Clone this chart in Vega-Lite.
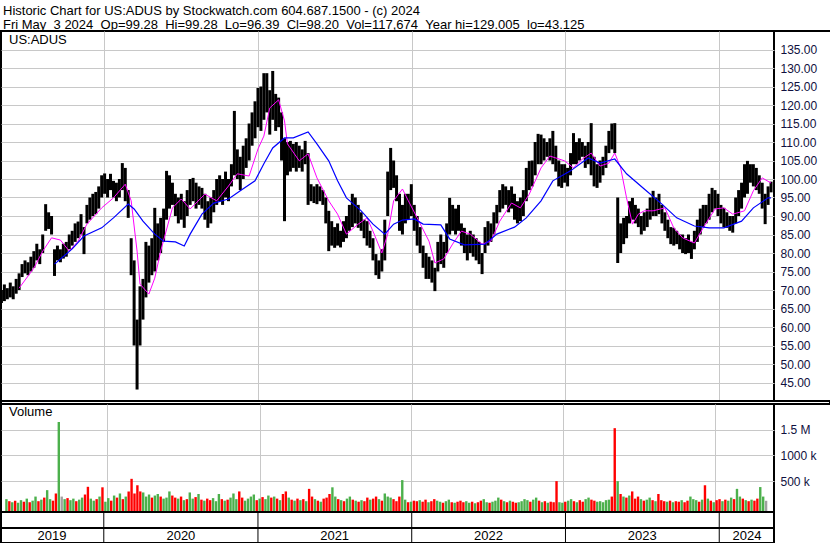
{
"$schema": "https://vega.github.io/schema/vega-lite/v6.json",
"background": "white",
"padding": {"left": 0, "top": 4, "right": 0, "bottom": 0},
"title": {"text": ["Historic Chart for US:ADUS by Stockwatch.com 604.687.1500 - (c) 2024", "Fri May\u00a0\u00a03 2024\u00a0\u00a0Op=99.28\u00a0\u00a0Hi=99.28\u00a0\u00a0Lo=96.39\u00a0\u00a0Cl=98.20\u00a0\u00a0Vol=117,674\u00a0\u00a0Year hi=129.005\u00a0\u00a0lo=43.125"], "anchor": "start", "frame": "group", "fontSize": 13, "fontWeight": "normal", "lineHeight": 14, "offset": -2, "dx": 2, "color": "black", "font": "Liberation Sans"},
"config": {"view": {"stroke": "black", "strokeWidth": 2}, "concat": {"spacing": 0}, "axis": {"labelFont": "Liberation Sans", "labelOverlap": false}, "text": {"font": "Liberation Sans"}, "title": {"font": "Liberation Sans"}},
"datasets": {
"px": [
{"d":"2019-05-03","h":70,"l":66.5,"v":150,"c":"g"},
{"d":"2019-05-10","h":71.5,"l":67,"v":110,"c":"r"},
{"d":"2019-05-17","h":70.5,"l":67.5,"v":90,"c":"g"},
{"d":"2019-05-24","h":72,"l":68,"v":120,"c":"r"},
{"d":"2019-05-31","h":71,"l":67.5,"v":80,"c":"g"},
{"d":"2019-06-07","h":73,"l":69,"v":130,"c":"g"},
{"d":"2019-06-14","h":74.5,"l":70,"v":100,"c":"r"},
{"d":"2019-06-21","h":77,"l":73.5,"v":160,"c":"g"},
{"d":"2019-06-28","h":78,"l":74.5,"v":90,"c":"r"},
{"d":"2019-07-05","h":77.5,"l":74,"v":120,"c":"g"},
{"d":"2019-07-12","h":79,"l":75,"v":200,"c":"g"},
{"d":"2019-07-19","h":80.5,"l":76,"v":110,"c":"r"},
{"d":"2019-07-26","h":82.5,"l":78,"v":140,"c":"g"},
{"d":"2019-08-02","h":81,"l":77,"v":180,"c":"r"},
{"d":"2019-08-09","h":85,"l":80,"v":325,"c":"g"},
{"d":"2019-08-16","h":93.2,"l":86,"v":150,"c":"g"},
{"d":"2019-08-23","h":91,"l":86.5,"v":120,"c":"r"},
{"d":"2019-08-30","h":90,"l":85,"v":260,"c":"r"},
{"d":"2019-09-06","h":81,"l":73.8,"v":1650,"c":"g"},
{"d":"2019-09-13","h":82,"l":78,"v":200,"c":"n"},
{"d":"2019-09-20","h":81,"l":77.5,"v":150,"c":"g"},
{"d":"2019-09-27","h":82.5,"l":78.5,"v":170,"c":"r"},
{"d":"2019-10-04","h":83,"l":79,"v":130,"c":"g"},
{"d":"2019-10-11","h":85,"l":81,"v":160,"c":"g"},
{"d":"2019-10-18","h":86,"l":82,"v":110,"c":"r"},
{"d":"2019-10-25","h":88,"l":83,"v":140,"c":"g"},
{"d":"2019-11-01","h":88.5,"l":84,"v":180,"c":"g"},
{"d":"2019-11-08","h":90.5,"l":85,"v":240,"c":"r"},
{"d":"2019-11-15","h":87,"l":79.7,"v":390,"c":"r"},
{"d":"2019-11-22","h":93,"l":88,"v":160,"c":"g"},
{"d":"2019-11-29","h":95,"l":89,"v":120,"c":"g"},
{"d":"2019-12-06","h":96,"l":90,"v":150,"c":"r"},
{"d":"2019-12-13","h":96.5,"l":90.5,"v":200,"c":"g"},
{"d":"2019-12-20","h":98,"l":92,"v":380,"c":"r"},
{"d":"2019-12-27","h":101,"l":95,"v":100,"c":"g"},
{"d":"2020-01-03","h":101.5,"l":96,"v":170,"c":"g"},
{"d":"2020-01-10","h":100,"l":95,"v":120,"c":"r"},
{"d":"2020-01-17","h":101.4,"l":97,"v":220,"c":"g"},
{"d":"2020-01-24","h":99.5,"l":95,"v":180,"c":"r"},
{"d":"2020-01-31","h":99,"l":94,"v":260,"c":"g"},
{"d":"2020-02-07","h":100,"l":95,"v":150,"c":"r"},
{"d":"2020-02-14","h":104.3,"l":97,"v":200,"c":"g"},
{"d":"2020-02-21","h":103,"l":94,"v":300,"c":"r"},
{"d":"2020-02-28","h":97,"l":89.5,"v":545,"c":"r"},
{"d":"2020-03-06","h":84,"l":74,"v":260,"c":"r"},
{"d":"2020-03-13","h":78,"l":55,"v":420,"c":"r"},
{"d":"2020-03-20","h":62,"l":43.1,"v":300,"c":"r"},
{"d":"2020-03-27","h":71,"l":55,"v":280,"c":"g"},
{"d":"2020-04-03","h":73,"l":62,"v":200,"c":"g"},
{"d":"2020-04-10","h":83,"l":68,"v":240,"c":"g"},
{"d":"2020-04-17","h":82,"l":72,"v":180,"c":"r"},
{"d":"2020-04-24","h":84,"l":74,"v":220,"c":"g"},
{"d":"2020-05-01","h":92.2,"l":75,"v":250,"c":"g"},
{"d":"2020-05-08","h":88,"l":78,"v":200,"c":"r"},
{"d":"2020-05-15","h":89.5,"l":80,"v":160,"c":"g"},
{"d":"2020-05-22","h":92,"l":83,"v":180,"c":"g"},
{"d":"2020-05-29","h":102.2,"l":89,"v":300,"c":"g"},
{"d":"2020-06-05","h":101,"l":92,"v":220,"c":"r"},
{"d":"2020-06-12","h":99,"l":93,"v":180,"c":"r"},
{"d":"2020-06-19","h":96,"l":90,"v":160,"c":"g"},
{"d":"2020-06-26","h":95,"l":88,"v":200,"c":"r"},
{"d":"2020-07-03","h":96,"l":89,"v":130,"c":"g"},
{"d":"2020-07-10","h":94,"l":86.8,"v":150,"c":"r"},
{"d":"2020-07-17","h":97,"l":90,"v":280,"c":"g"},
{"d":"2020-07-24","h":100,"l":93,"v":160,"c":"g"},
{"d":"2020-07-31","h":100.3,"l":94,"v":190,"c":"r"},
{"d":"2020-08-07","h":99,"l":92,"v":250,"c":"g"},
{"d":"2020-08-14","h":98,"l":93,"v":140,"c":"r"},
{"d":"2020-08-21","h":97.6,"l":92,"v":120,"c":"g"},
{"d":"2020-08-28","h":96,"l":89,"v":160,"c":"r"},
{"d":"2020-09-04","h":94,"l":86.8,"v":130,"c":"r"},
{"d":"2020-09-11","h":95,"l":88,"v":170,"c":"g"},
{"d":"2020-09-18","h":97,"l":91,"v":110,"c":"g"},
{"d":"2020-09-25","h":100,"l":93,"v":250,"c":"g"},
{"d":"2020-10-02","h":101,"l":94,"v":150,"c":"r"},
{"d":"2020-10-09","h":100,"l":93,"v":120,"c":"g"},
{"d":"2020-10-16","h":102,"l":95,"v":140,"c":"r"},
{"d":"2020-10-23","h":100,"l":94,"v":180,"c":"g"},
{"d":"2020-10-30","h":104,"l":98,"v":260,"c":"g"},
{"d":"2020-11-06","h":118.4,"l":101,"v":150,"c":"g"},
{"d":"2020-11-13","h":108,"l":100,"v":300,"c":"r"},
{"d":"2020-11-20","h":106,"l":97,"v":180,"c":"r"},
{"d":"2020-11-27","h":109,"l":100,"v":120,"c":"g"},
{"d":"2020-12-04","h":111,"l":103,"v":160,"c":"g"},
{"d":"2020-12-11","h":115,"l":105,"v":200,"c":"g"},
{"d":"2020-12-18","h":118,"l":109,"v":240,"c":"g"},
{"d":"2020-12-25","h":121,"l":111,"v":130,"c":"r"},
{"d":"2021-01-01","h":124.6,"l":114,"v":160,"c":"g"},
{"d":"2021-01-08","h":125,"l":113,"v":190,"c":"r"},
{"d":"2021-01-15","h":128.6,"l":116,"v":150,"c":"g"},
{"d":"2021-01-22","h":128.6,"l":118,"v":220,"c":"g"},
{"d":"2021-01-29","h":124,"l":112,"v":180,"c":"r"},
{"d":"2021-02-05","h":129.2,"l":116,"v":200,"c":"g"},
{"d":"2021-02-12","h":123,"l":113,"v":160,"c":"r"},
{"d":"2021-02-19","h":122,"l":114,"v":130,"c":"g"},
{"d":"2021-02-26","h":118,"l":105,"v":250,"c":"r"},
{"d":"2021-03-05","h":111,"l":88.6,"v":300,"c":"r"},
{"d":"2021-03-12","h":110,"l":101,"v":180,"c":"g"},
{"d":"2021-03-19","h":110.3,"l":102,"v":140,"c":"r"},
{"d":"2021-03-26","h":109.5,"l":103,"v":120,"c":"g"},
{"d":"2021-04-02","h":110,"l":102,"v":160,"c":"r"},
{"d":"2021-04-09","h":109,"l":103,"v":130,"c":"g"},
{"d":"2021-04-16","h":108,"l":102,"v":150,"c":"r"},
{"d":"2021-04-23","h":110.3,"l":104,"v":110,"c":"g"},
{"d":"2021-04-30","h":107,"l":93,"v":350,"c":"r"},
{"d":"2021-05-07","h":98.6,"l":94,"v":200,"c":"r"},
{"d":"2021-05-14","h":98,"l":93.5,"v":150,"c":"g"},
{"d":"2021-05-21","h":98.6,"l":93.2,"v":120,"c":"r"},
{"d":"2021-05-28","h":98,"l":94,"v":100,"c":"g"},
{"d":"2021-06-04","h":97,"l":93,"v":160,"c":"r"},
{"d":"2021-06-11","h":95,"l":88,"v":180,"c":"r"},
{"d":"2021-06-18","h":91.4,"l":80.5,"v":250,"c":"r"},
{"d":"2021-06-25","h":88.6,"l":82,"v":380,"c":"g"},
{"d":"2021-07-02","h":87,"l":81.4,"v":200,"c":"g"},
{"d":"2021-07-09","h":88,"l":82,"v":150,"c":"r"},
{"d":"2021-07-16","h":86,"l":81.5,"v":130,"c":"g"},
{"d":"2021-07-23","h":88.6,"l":83,"v":110,"c":"r"},
{"d":"2021-07-30","h":90,"l":84,"v":160,"c":"g"},
{"d":"2021-08-06","h":93,"l":86,"v":200,"c":"g"},
{"d":"2021-08-13","h":96,"l":87,"v":140,"c":"r"},
{"d":"2021-08-20","h":95,"l":88,"v":120,"c":"g"},
{"d":"2021-08-27","h":93,"l":86.8,"v":100,"c":"r"},
{"d":"2021-09-03","h":91,"l":86,"v":130,"c":"g"},
{"d":"2021-09-10","h":89,"l":84,"v":110,"c":"r"},
{"d":"2021-09-17","h":88.6,"l":82,"v":180,"c":"r"},
{"d":"2021-09-24","h":86,"l":81.4,"v":140,"c":"g"},
{"d":"2021-10-01","h":84,"l":78,"v":160,"c":"r"},
{"d":"2021-10-08","h":79.7,"l":74,"v":200,"c":"r"},
{"d":"2021-10-15","h":78,"l":73,"v":150,"c":"g"},
{"d":"2021-10-22","h":81,"l":75,"v":120,"c":"r"},
{"d":"2021-10-29","h":89,"l":78,"v":260,"c":"g"},
{"d":"2021-11-05","h":102,"l":90,"v":200,"c":"g"},
{"d":"2021-11-12","h":108.4,"l":97,"v":180,"c":"g"},
{"d":"2021-11-19","h":105,"l":97.6,"v":150,"c":"r"},
{"d":"2021-11-26","h":101,"l":94,"v":110,"c":"r"},
{"d":"2021-12-03","h":96,"l":86,"v":200,"c":"r"},
{"d":"2021-12-10","h":93,"l":85,"v":520,"c":"g"},
{"d":"2021-12-17","h":96,"l":88,"v":140,"c":"g"},
{"d":"2021-12-24","h":96,"l":89,"v":90,"c":"r"},
{"d":"2021-12-31","h":98.6,"l":90,"v":100,"c":"g"},
{"d":"2022-01-07","h":93,"l":86,"v":120,"c":"r"},
{"d":"2022-01-14","h":90,"l":82,"v":110,"c":"r"},
{"d":"2022-01-21","h":87,"l":80,"v":130,"c":"g"},
{"d":"2022-01-28","h":82,"l":76,"v":100,"c":"r"},
{"d":"2022-02-04","h":80,"l":73,"v":140,"c":"r"},
{"d":"2022-02-11","h":79,"l":73,"v":90,"c":"g"},
{"d":"2022-02-18","h":78,"l":72,"v":110,"c":"r"},
{"d":"2022-02-25","h":76,"l":69.7,"v":150,"c":"r"},
{"d":"2022-03-04","h":83,"l":75,"v":120,"c":"g"},
{"d":"2022-03-11","h":85,"l":77,"v":100,"c":"g"},
{"d":"2022-03-18","h":83,"l":76,"v":80,"c":"r"},
{"d":"2022-03-25","h":88,"l":80,"v":110,"c":"g"},
{"d":"2022-04-01","h":94.9,"l":85,"v":140,"c":"g"},
{"d":"2022-04-08","h":93,"l":86,"v":90,"c":"r"},
{"d":"2022-04-15","h":92,"l":85,"v":80,"c":"g"},
{"d":"2022-04-22","h":93,"l":86,"v":100,"c":"r"},
{"d":"2022-04-29","h":88,"l":82,"v":120,"c":"r"},
{"d":"2022-05-06","h":86.8,"l":80,"v":90,"c":"r"},
{"d":"2022-05-13","h":85,"l":78,"v":110,"c":"g"},
{"d":"2022-05-20","h":86,"l":80,"v":80,"c":"g"},
{"d":"2022-05-27","h":85,"l":79,"v":100,"c":"r"},
{"d":"2022-06-03","h":84,"l":78,"v":70,"c":"g"},
{"d":"2022-06-10","h":83,"l":77,"v":90,"c":"r"},
{"d":"2022-06-17","h":80,"l":74.3,"v":120,"c":"r"},
{"d":"2022-06-24","h":87,"l":80,"v":150,"c":"g"},
{"d":"2022-07-01","h":88.6,"l":82,"v":90,"c":"g"},
{"d":"2022-07-08","h":88,"l":83,"v":80,"c":"r"},
{"d":"2022-07-15","h":91,"l":85,"v":100,"c":"g"},
{"d":"2022-07-22","h":93,"l":88,"v":120,"c":"g"},
{"d":"2022-07-29","h":97,"l":91,"v":180,"c":"g"},
{"d":"2022-08-05","h":98.6,"l":92,"v":140,"c":"r"},
{"d":"2022-08-12","h":98,"l":93,"v":110,"c":"g"},
{"d":"2022-08-19","h":97,"l":91,"v":90,"c":"r"},
{"d":"2022-08-26","h":98,"l":92,"v":120,"c":"g"},
{"d":"2022-09-02","h":96,"l":89,"v":100,"c":"r"},
{"d":"2022-09-09","h":94,"l":88,"v":80,"c":"r"},
{"d":"2022-09-16","h":95,"l":88.6,"v":90,"c":"g"},
{"d":"2022-09-23","h":97,"l":90,"v":110,"c":"g"},
{"d":"2022-09-30","h":103,"l":94,"v":150,"c":"g"},
{"d":"2022-10-07","h":104.9,"l":97,"v":130,"c":"g"},
{"d":"2022-10-14","h":105,"l":98,"v":100,"c":"r"},
{"d":"2022-10-21","h":110,"l":101,"v":140,"c":"g"},
{"d":"2022-10-28","h":112.2,"l":104,"v":180,"c":"g"},
{"d":"2022-11-04","h":112,"l":104,"v":120,"c":"r"},
{"d":"2022-11-11","h":111,"l":105,"v":90,"c":"g"},
{"d":"2022-11-18","h":110,"l":106,"v":110,"c":"r"},
{"d":"2022-11-25","h":111,"l":105,"v":80,"c":"g"},
{"d":"2022-12-02","h":113,"l":104,"v":100,"c":"r"},
{"d":"2022-12-09","h":109,"l":102,"v":90,"c":"r"},
{"d":"2022-12-16","h":105,"l":98,"v":500,"c":"r"},
{"d":"2022-12-23","h":104,"l":97.6,"v":90,"c":"g"},
{"d":"2022-12-30","h":104,"l":99,"v":80,"c":"g"},
{"d":"2023-01-06","h":103,"l":98,"v":100,"c":"r"},
{"d":"2023-01-13","h":107,"l":101,"v":120,"c":"g"},
{"d":"2023-01-20","h":112.4,"l":104,"v":150,"c":"g"},
{"d":"2023-01-27","h":110,"l":104,"v":110,"c":"r"},
{"d":"2023-02-03","h":111,"l":105,"v":90,"c":"g"},
{"d":"2023-02-10","h":110,"l":106,"v":130,"c":"r"},
{"d":"2023-02-17","h":109,"l":103,"v":100,"c":"r"},
{"d":"2023-02-24","h":110,"l":104,"v":150,"c":"g"},
{"d":"2023-03-03","h":115.1,"l":101,"v":180,"c":"g"},
{"d":"2023-03-10","h":106,"l":98,"v":140,"c":"r"},
{"d":"2023-03-17","h":104,"l":97.6,"v":120,"c":"r"},
{"d":"2023-03-24","h":105,"l":99,"v":100,"c":"g"},
{"d":"2023-03-31","h":106,"l":101,"v":110,"c":"g"},
{"d":"2023-04-07","h":109,"l":103,"v":90,"c":"g"},
{"d":"2023-04-14","h":113,"l":107,"v":130,"c":"g"},
{"d":"2023-04-21","h":115,"l":108,"v":140,"c":"g"},
{"d":"2023-04-28","h":115.1,"l":107,"v":200,"c":"r"},
{"d":"2023-05-05","h":95,"l":77.3,"v":1530,"c":"r"},
{"d":"2023-05-12","h":88,"l":80,"v":500,"c":"g"},
{"d":"2023-05-19","h":89.5,"l":82.4,"v":250,"c":"r"},
{"d":"2023-05-26","h":90,"l":84,"v":200,"c":"g"},
{"d":"2023-06-02","h":94,"l":88,"v":180,"c":"r"},
{"d":"2023-06-09","h":94.9,"l":89,"v":220,"c":"g"},
{"d":"2023-06-16","h":93,"l":88,"v":300,"c":"r"},
{"d":"2023-06-23","h":92,"l":87,"v":160,"c":"r"},
{"d":"2023-06-30","h":90,"l":85,"v":200,"c":"r"},
{"d":"2023-07-07","h":91,"l":86,"v":150,"c":"g"},
{"d":"2023-07-14","h":92,"l":87,"v":120,"c":"r"},
{"d":"2023-07-21","h":95,"l":89,"v":140,"c":"g"},
{"d":"2023-07-28","h":96.8,"l":90,"v":180,"c":"g"},
{"d":"2023-08-04","h":95,"l":90,"v":130,"c":"r"},
{"d":"2023-08-11","h":96,"l":90.5,"v":110,"c":"g"},
{"d":"2023-08-18","h":93,"l":88,"v":250,"c":"r"},
{"d":"2023-08-25","h":91,"l":86,"v":130,"c":"r"},
{"d":"2023-09-01","h":89,"l":84,"v":110,"c":"r"},
{"d":"2023-09-08","h":87,"l":82.4,"v":100,"c":"g"},
{"d":"2023-09-15","h":86.8,"l":82,"v":120,"c":"r"},
{"d":"2023-09-22","h":86,"l":82.4,"v":90,"c":"g"},
{"d":"2023-09-29","h":85,"l":81,"v":110,"c":"r"},
{"d":"2023-10-06","h":85,"l":80,"v":100,"c":"r"},
{"d":"2023-10-13","h":84,"l":79.7,"v":130,"c":"g"},
{"d":"2023-10-20","h":85,"l":80,"v":90,"c":"r"},
{"d":"2023-10-27","h":83,"l":78.4,"v":120,"c":"r"},
{"d":"2023-11-03","h":86,"l":81,"v":200,"c":"g"},
{"d":"2023-11-10","h":89,"l":83,"v":150,"c":"g"},
{"d":"2023-11-17","h":92,"l":85,"v":130,"c":"g"},
{"d":"2023-11-24","h":93,"l":87,"v":100,"c":"r"},
{"d":"2023-12-01","h":93,"l":88,"v":140,"c":"g"},
{"d":"2023-12-08","h":96,"l":89,"v":420,"c":"r"},
{"d":"2023-12-15","h":97.6,"l":91,"v":160,"c":"g"},
{"d":"2023-12-22","h":97,"l":92,"v":120,"c":"r"},
{"d":"2023-12-29","h":96,"l":90,"v":90,"c":"g"},
{"d":"2024-01-05","h":93,"l":88,"v":130,"c":"r"},
{"d":"2024-01-12","h":92.2,"l":87,"v":150,"c":"r"},
{"d":"2024-01-19","h":91,"l":86.8,"v":110,"c":"g"},
{"d":"2024-01-26","h":90,"l":86,"v":140,"c":"r"},
{"d":"2024-02-02","h":90,"l":85.5,"v":120,"c":"g"},
{"d":"2024-02-09","h":95,"l":88,"v":180,"c":"g"},
{"d":"2024-02-16","h":97,"l":90,"v":150,"c":"r"},
{"d":"2024-02-23","h":99,"l":92,"v":350,"c":"g"},
{"d":"2024-03-01","h":104,"l":95,"v":200,"c":"g"},
{"d":"2024-03-08","h":104.9,"l":96,"v":160,"c":"r"},
{"d":"2024-03-15","h":104,"l":99,"v":130,"c":"g"},
{"d":"2024-03-22","h":104,"l":98,"v":110,"c":"r"},
{"d":"2024-03-29","h":103,"l":97,"v":140,"c":"g"},
{"d":"2024-04-05","h":101,"l":96,"v":120,"c":"r"},
{"d":"2024-04-12","h":99,"l":92,"v":160,"c":"r"},
{"d":"2024-04-19","h":96,"l":87.8,"v":385,"c":"g"},
{"d":"2024-04-26","h":98,"l":93,"v":200,"c":"g"},
{"d":"2024-05-03","h":99.28,"l":96.39,"v":118,"c":"n"}
],
"ma1": [
{"d":"2019-06-14","l":70.5},{"d":"2019-07-19","l":75.9},{"d":"2019-08-09","l":80.5},{"d":"2019-08-30","l":84.1},{"d":"2019-09-20","l":83.5},{"d":"2019-10-11","l":80.5},{"d":"2019-11-01","l":83.2},{"d":"2019-11-22","l":87.8},{"d":"2019-12-27","l":92.2},{"d":"2020-01-24","l":94.9},{"d":"2020-02-21","l":98.6},{"d":"2020-03-06","l":94.1},{"d":"2020-03-20","l":80.5},{"d":"2020-03-27","l":71.6},{"d":"2020-04-17","l":68.9},{"d":"2020-05-01","l":73.2},{"d":"2020-05-15","l":80.5},{"d":"2020-06-12","l":92.2},{"d":"2020-07-03","l":94.6},{"d":"2020-07-24","l":91.9},{"d":"2020-08-28","l":95.9},{"d":"2020-09-25","l":94.1},{"d":"2020-10-23","l":98.1},{"d":"2020-11-13","l":101.4},{"d":"2020-12-11","l":100.8},{"d":"2021-01-01","l":108.1},{"d":"2021-01-15","l":111.6},{"d":"2021-01-29","l":119.2},{"d":"2021-02-19","l":121.4},{"d":"2021-03-05","l":115.7},{"d":"2021-03-12","l":109.5},{"d":"2021-04-09","l":104.9},{"d":"2021-04-30","l":106.8},{"d":"2021-05-21","l":100.3},{"d":"2021-06-18","l":94.1},{"d":"2021-07-09","l":90.5},{"d":"2021-07-30","l":85.1},{"d":"2021-08-27","l":87.8},{"d":"2021-09-17","l":89.5},{"d":"2021-10-01","l":85.9},{"d":"2021-10-22","l":80.0},{"d":"2021-11-05","l":85.1},{"d":"2021-11-19","l":94.1},{"d":"2021-12-10","l":97.3},{"d":"2021-12-24","l":94.1},{"d":"2022-01-14","l":89.5},{"d":"2022-02-11","l":83.2},{"d":"2022-02-25","l":77.3},{"d":"2022-03-18","l":78.4},{"d":"2022-04-08","l":82.4},{"d":"2022-04-29","l":85.9},{"d":"2022-05-20","l":85.1},{"d":"2022-06-17","l":82.4},{"d":"2022-07-08","l":83.2},{"d":"2022-07-29","l":88.6},{"d":"2022-08-26","l":93.5},{"d":"2022-09-16","l":92.2},{"d":"2022-10-07","l":95.9},{"d":"2022-11-04","l":103.0},{"d":"2022-11-25","l":106.2},{"d":"2022-12-30","l":104.9},{"d":"2023-01-20","l":103.0},{"d":"2023-02-10","l":105.4},{"d":"2023-03-03","l":107.0},{"d":"2023-03-24","l":103.5},{"d":"2023-04-14","l":104.3},{"d":"2023-04-28","l":107.0},{"d":"2023-05-12","l":103.0},{"d":"2023-05-26","l":94.9},{"d":"2023-06-09","l":87.8},{"d":"2023-06-23","l":90.5},{"d":"2023-07-07","l":91.4},{"d":"2023-07-28","l":91.4},{"d":"2023-08-25","l":92.2},{"d":"2023-09-15","l":86.8},{"d":"2023-10-06","l":84.1},{"d":"2023-11-03","l":82.7},{"d":"2023-11-24","l":86.8},{"d":"2023-12-22","l":91.9},{"d":"2024-01-12","l":92.2},{"d":"2024-02-02","l":90.5},{"d":"2024-03-01","l":91.4},{"d":"2024-03-22","l":96.8},{"d":"2024-04-12","l":100.3},{"d":"2024-05-03","l":98.9}
],
"ma2": [
{"d":"2019-09-06","l":77.0},{"d":"2019-10-18","l":81.1},{"d":"2019-11-15","l":84.6},{"d":"2019-12-27","l":86.8},{"d":"2020-01-24","l":89.5},{"d":"2020-02-28","l":93.2},{"d":"2020-03-13","l":91.9},{"d":"2020-04-03","l":88.6},{"d":"2020-05-01","l":85.1},{"d":"2020-05-22","l":83.2},{"d":"2020-06-19","l":83.0},{"d":"2020-07-10","l":81.9},{"d":"2020-07-24","l":85.1},{"d":"2020-08-21","l":90.5},{"d":"2020-09-18","l":93.5},{"d":"2020-10-23","l":94.6},{"d":"2020-11-20","l":96.8},{"d":"2020-12-25","l":99.5},{"d":"2021-01-15","l":104.1},{"d":"2021-02-05","l":108.4},{"d":"2021-03-05","l":111.1},{"d":"2021-03-26","l":111.1},{"d":"2021-04-30","l":112.7},{"d":"2021-05-21","l":109.5},{"d":"2021-06-18","l":104.9},{"d":"2021-07-09","l":99.5},{"d":"2021-07-30","l":94.9},{"d":"2021-09-03","l":91.4},{"d":"2021-10-01","l":87.8},{"d":"2021-10-29","l":85.1},{"d":"2021-11-19","l":87.8},{"d":"2021-12-10","l":88.9},{"d":"2022-01-07","l":89.2},{"d":"2022-01-28","l":87.8},{"d":"2022-03-11","l":87.6},{"d":"2022-04-01","l":83.8},{"d":"2022-05-06","l":82.2},{"d":"2022-06-24","l":82.4},{"d":"2022-07-22","l":85.1},{"d":"2022-09-02","l":87.0},{"d":"2022-09-30","l":89.5},{"d":"2022-11-04","l":94.1},{"d":"2022-12-02","l":99.5},{"d":"2023-01-13","l":102.2},{"d":"2023-02-24","l":105.7},{"d":"2023-03-24","l":104.3},{"d":"2023-04-28","l":105.4},{"d":"2023-05-26","l":101.4},{"d":"2023-07-07","l":97.3},{"d":"2023-08-18","l":93.2},{"d":"2023-09-22","l":89.5},{"d":"2023-11-03","l":87.3},{"d":"2023-12-08","l":86.8},{"d":"2024-01-12","l":86.8},{"d":"2024-02-23","l":88.6},{"d":"2024-03-22","l":92.2},{"d":"2024-04-26","l":94.9},{"d":"2024-05-03","l":94.9}
],
"yb": [{"b":"2020-01-01"},{"b":"2021-01-01"},{"b":"2022-01-01"},{"b":"2023-01-01"},{"b":"2024-01-01"}],
"yl": [{"t":"2019","m":"2019-08-31"},{"t":"2020","m":"2020-07-02"},{"t":"2021","m":"2021-07-02"},{"t":"2022","m":"2022-07-02"},{"t":"2023","m":"2023-07-02"},{"t":"2024","m":"2024-03-07"}]
},
"spacing": 0,
"bounds": "flush",
"vconcat": [
{
"width": 829, "height": 1,
"view": {"stroke": "black", "strokeWidth": 1},
"data": {"name": "yb"},
"mark": {"type": "rule", "opacity": 0},
"encoding": {"x": {"field": "b", "type": "temporal", "axis": null}}
},
{
"width": 773, "height": 370,
"title": {"text": "US:ADUS", "anchor": "start", "orient": "top", "offset": -16, "dx": 8, "fontSize": 13, "fontWeight": "normal", "color": "black", "font": "Liberation Sans"},
"encoding": {
  "x": {"field": "d", "type": "temporal", "scale": {"domain": [{"year": 2019, "month": 5, "date": 2}, {"year": 2024, "month": 5, "date": 10}]}, "axis": {"values": [{"year": 2020, "month": 1, "date": 1}, {"year": 2021, "month": 1, "date": 1}, {"year": 2022, "month": 1, "date": 1}, {"year": 2023, "month": 1, "date": 1}, {"year": 2024, "month": 1, "date": 1}], "labels": false, "ticks": false, "domain": false, "grid": true, "gridColor": "#c8c8c8", "gridOpacity": 1, "title": null}},
  "y": {"field": "l", "type": "quantitative", "scale": {"domain": [40, 140], "nice": false, "zero": false}, "axis": {"orient": "right", "values": [45,50,55,60,65,70,75,80,85,90,95,100,105,110,115,120,125,130,135], "format": ".2f", "grid": true, "gridColor": "#c8c8c8", "gridOpacity": 1, "domain": false, "ticks": false, "labelPadding": 6, "labelFontSize": 12, "labelColor": "#101040", "labelOverlap": false, "title": null}}
},
"layer": [
{"data": {"name": "px"}, "mark": {"type": "rule", "strokeWidth": 3, "color": "black", "clip": true},
 "encoding": {"y2": {"field": "h"}}},
{"data": {"name": "ma1"}, "mark": {"type": "line", "color": "#ff00ff", "strokeWidth": 1, "clip": true}},
{"data": {"name": "ma2"}, "mark": {"type": "line", "color": "#0000ff", "strokeWidth": 1.2, "clip": true}}
]
},
{
"width": 829, "height": 3,
"data": {"name": "yb"},
"mark": {"type": "rule", "opacity": 0},
"encoding": {"x": {"field": "b", "type": "temporal", "axis": null}}
},
{
"width": 773, "height": 108,
"title": {"text": "Volume", "anchor": "start", "orient": "top", "offset": -15, "dx": 8, "fontSize": 13, "fontWeight": "normal", "color": "black", "font": "Liberation Sans"},
"data": {"name": "px"},
"mark": {"type": "bar", "size": 2.4, "clip": true},
"encoding": {
 "x": {"field": "d", "type": "temporal", "scale": {"domain": [{"year": 2019, "month": 5, "date": 2}, {"year": 2024, "month": 5, "date": 10}]}, "axis": {"values": [{"year": 2020, "month": 1, "date": 1}, {"year": 2021, "month": 1, "date": 1}, {"year": 2022, "month": 1, "date": 1}, {"year": 2023, "month": 1, "date": 1}, {"year": 2024, "month": 1, "date": 1}], "labels": false, "ticks": false, "domain": false, "grid": true, "gridColor": "#c8c8c8", "gridOpacity": 1, "title": null}},
 "y": {"field": "v", "type": "quantitative", "scale": {"domain": [-100, 2000], "nice": false, "zero": false}, "axis": {"orient": "right", "values": [500, 1000, 1500], "labelExpr": "datum.value == 1500 ? '1.5 M' : datum.value == 1000 ? '1000 k' : '500 k'", "grid": true, "gridColor": "#c8c8c8", "gridOpacity": 1, "domain": false, "ticks": false, "labelPadding": 6, "labelFontSize": 12, "labelColor": "#101040", "title": null}},
 "y2": {"datum": -100},
 "color": {"field": "c", "type": "nominal", "scale": {"domain": ["g", "r", "n"], "range": ["#4cb04c", "#ff0000", "#a0a0a0"]}, "legend": null}
}
},
{
"width": 773, "height": 16,
"data": {"name": "yb"},
"mark": {"type": "rule", "color": "black", "strokeWidth": 1},
"encoding": {"x": {"field": "b", "type": "temporal", "scale": {"domain": [{"year": 2019, "month": 5, "date": 2}, {"year": 2024, "month": 5, "date": 10}]}, "axis": null}}
},
{
"width": 773, "height": 15,
"layer": [
{"data": {"name": "yb"}, "mark": {"type": "rule", "color": "black", "strokeWidth": 1},
 "encoding": {"x": {"field": "b", "type": "temporal", "scale": {"domain": [{"year": 2019, "month": 5, "date": 2}, {"year": 2024, "month": 5, "date": 10}]}, "axis": null}}},
{"data": {"name": "yl"}, "mark": {"type": "text", "fontSize": 13, "color": "black", "baseline": "middle"},
 "encoding": {"x": {"field": "m", "type": "temporal"}, "y": {"datum": 0.45, "type": "quantitative", "scale": {"domain": [0, 1]}, "axis": null}, "text": {"field": "t"}}}
]
}
]
}
